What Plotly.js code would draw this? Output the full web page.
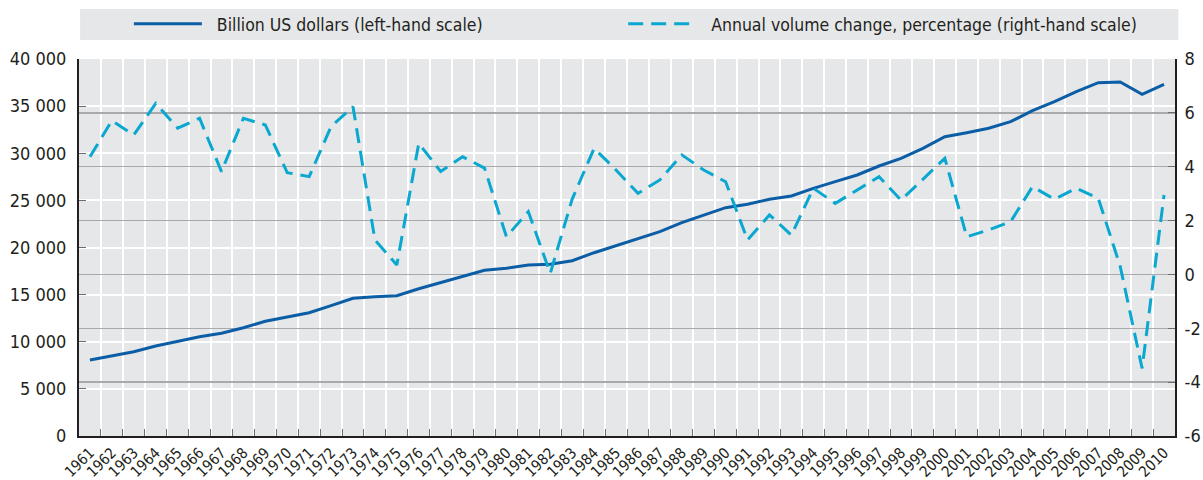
<!DOCTYPE html>
<html>
<head>
<meta charset="utf-8">
<script src="https://cdn.plot.ly/plotly-3.0.1.min.js"></script>
<style>html,body{margin:0;padding:0;background:#fff;}#chart{width:1203px;height:480px;}</style>
</head>
<body>
<div id="chart"></div>
<script>
var years = ['1961','1962','1963','1964','1965','1966','1967','1968','1969','1970',
             '1971','1972','1973','1974','1975','1976','1977','1978','1979','1980',
             '1981','1982','1983','1984','1985','1986','1987','1988','1989','1990',
             '1991','1992','1993','1994','1995','1996','1997','1998','1999','2000',
             '2001','2002','2003','2004','2005','2006','2007','2008','2009','2010'];

var billionUSD = [8064, 8488, 8946, 9549, 10006, 10536, 10896, 11491, 12170, 12594,
                  13083, 13826, 14610, 14780, 14886, 15629, 16266, 16902, 17581, 17793,
                  18143, 18217, 18600, 19448, 20200, 20972, 21680, 22635, 23448, 24226,
                  24580, 25111, 25464, 26277, 26984, 27692, 28647, 29460, 30524, 31757,
                  32182, 32646, 33350, 34517, 35470, 36531, 37486, 37560, 36252, 37316];

var volumeChangePct = [4.37, 5.71, 5.18, 6.35, 5.43, 5.80, 3.82, 5.80, 5.55, 3.78,
                       3.63, 5.49, 6.23, 1.28, 0.35, 4.87, 3.82, 4.37, 3.95, 1.40,
                       2.33, 0.04, 2.80, 4.68, 3.88, 3.01, 3.51, 4.44, 3.88, 3.44,
                       1.28, 2.21, 1.46, 3.20, 2.64, 3.14, 3.63, 2.76, 3.54, 4.31,
                       1.40, 1.65, 1.96, 3.26, 2.79, 3.20, 2.83, 0.30, -3.49, 2.95];

var seriesNames = ['Billion US dollars (left-hand scale)',
                   'Annual volume change, percentage (right-hand scale)'];

var leftTickVals = [0, 5000, 10000, 15000, 20000, 25000, 30000, 35000, 40000];
var leftTickText = ['0', '5 000', '10 000', '15 000', '20 000', '25 000', '30 000', '35 000', '40 000'];
var rightTickVals = [-6, -4, -2, 0, 2, 4, 6, 8];
var rightTickText = ['-6', '-4', '-2', '0', '2', '4', '6', '8'];

var FONT = "'Liberation Sans Narrow', 'DejaVu Sans Condensed', 'Liberation Sans', Arial, sans-serif";
var TXT = '#231f20';
var PAD = '\u00a0\u00a0';

var traces = [
  {
    type: 'scatter', mode: 'lines', x: years, y: billionUSD, name: PAD + seriesNames[0],
    line: {color: '#0b5ea6', width: 3}, yaxis: 'y', legend: 'legend'
  },
  {
    type: 'scatter', mode: 'lines', x: years, y: volumeChangePct, name: PAD + seriesNames[1],
    line: {color: '#0aa8d0', width: 3, dash: '15px,8px'}, yaxis: 'y2', legend: 'legend2'
  }
];

var legendBase = {
  orientation: 'h', xanchor: 'left', y: 1.093, yanchor: 'middle',
  bgcolor: 'rgba(0,0,0,0)', borderwidth: 0,
  font: {family: FONT, size: 17.5, color: TXT},
  itemwidth: 68
};

var layout = {
  width: 1203, height: 480,
  margin: {l: 79, r: 28, t: 59, b: 44, pad: 0, autoexpand: false},
  paper_bgcolor: '#ffffff',
  plot_bgcolor: '#e6e7e8',
  font: {family: FONT, size: 18, color: TXT},
  showlegend: true,
  legend: Object.assign({}, legendBase, {x: 0.0455}),
  legend2: Object.assign({}, legendBase, {x: 0.4965}),
  shapes: [{
    type: 'rect', xref: 'paper', yref: 'paper', x0: 0.001, x1: 1.003, y0: 1.0504, y1: 1.1326,
    fillcolor: '#e6e7e8', line: {width: 0}, layer: 'below'
  }],
  xaxis: {
    type: 'category', range: [-0.5, 49.5], tickson: 'boundaries',
    ticks: 'inside', ticklen: 7, tickwidth: 1, tickcolor: '#6d6e71',
    showgrid: true, gridcolor: '#ffffff', gridwidth: 2,
    showline: true, linecolor: TXT, linewidth: 2,
    tickangle: -45, tickfont: {family: FONT, size: 15, color: TXT},
    ticklabelstandoff: 0,
    zeroline: false, fixedrange: true
  },
  yaxis: {
    range: [0, 40000], tickmode: 'array', tickvals: leftTickVals, ticktext: leftTickText,
    ticks: 'inside', ticklen: 7, tickwidth: 1, tickcolor: '#6d6e71',
    showgrid: true, gridcolor: '#ffffff', gridwidth: 2,
    showline: true, linecolor: TXT, linewidth: 2, zeroline: false,
    tickfont: {family: FONT, size: 18, color: TXT}, ticklabelstandoff: 7
  },
  yaxis2: {
    overlaying: 'y', side: 'right', anchor: 'x',
    range: [-6, 8], tickmode: 'array', tickvals: rightTickVals, ticktext: rightTickText,
    ticks: 'inside', ticklen: 7, tickwidth: 1, tickcolor: '#6d6e71',
    showgrid: true, gridcolor: '#a7a9ac', gridwidth: 1.5,
    showline: true, linecolor: TXT, linewidth: 2, zeroline: false,
    tickfont: {family: FONT, size: 18, color: TXT}, ticklabelstandoff: 4
  }
};

Plotly.newPlot('chart', traces, layout, {displayModeBar: false, staticPlot: true});
</script>
</body>
</html>
